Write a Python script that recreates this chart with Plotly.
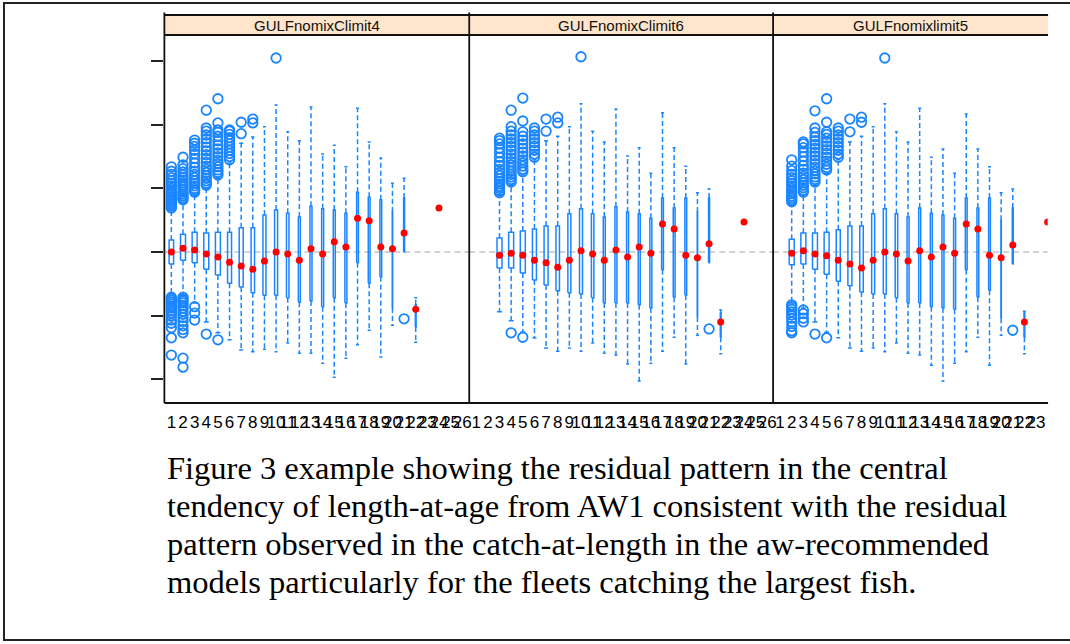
import plotly.graph_objects as go

W, H = 1070, 644

# ---------------- data ----------------
panel_titles = ["GULFnomixClimit4", "GULFnomixClimit6", "GULFnomixlimit5"]
age_ticks = list(range(1, 27))

# panel 1 : GULFnomixClimit4
p1_age   = [1, 2, 3, 4, 5, 6, 7, 8, 9, 10, 11, 12, 13, 14, 15, 16, 17, 18, 19, 20, 21, 22, 24]
p1_lower = [-0.68, -0.68, -0.80, -1.10, -1.27, -1.38, -1.54, -1.57, -1.53, -1.57, -1.43, -1.59, -1.59, -1.75, -1.97, -1.67, -1.46, -1.23, -1.65, -1.15, 0.00, -1.42, None]
p1_q1    = [-0.19, -0.13, -0.17, -0.27, -0.36, -0.49, -0.55, -0.64, -0.68, -0.68, -0.72, -0.79, -0.77, -0.86, -0.72, -0.80, -0.17, -0.49, -0.39, -0.88, 0.00, -1.18, None]
p1_med   = [0.00, 0.06, 0.03, -0.03, -0.08, -0.16, -0.22, -0.27, -0.14, 0.00, -0.03, -0.13, 0.05, -0.03, 0.16, 0.08, 0.53, 0.49, 0.08, 0.05, 0.30, -0.90, 0.69]
p1_q3    = [0.19, 0.28, 0.31, 0.30, 0.31, 0.31, 0.38, 0.38, 0.58, 0.66, 0.61, 0.55, 0.72, 0.68, 0.66, 0.61, 0.94, 0.86, 0.82, 0.63, 0.85, -0.83, None]
p1_upper = [0.66, 0.77, 0.90, 1.00, 1.16, 1.40, 1.71, 1.81, 1.97, 2.31, 1.89, 1.75, 2.28, 1.54, 1.68, 1.34, 2.26, 1.73, 1.48, 1.08, 1.16, -0.72, None]
p1_outliers = {
    1: [0.69, 0.72, 0.75, 0.78, 0.81, 0.84, 0.87, 0.90, 0.93, 0.96, 1.00, 1.04, 1.08, 1.12, 1.17, 1.22, 1.27, 1.34,
        -0.71, -0.73, -0.76, -0.79, -0.82, -0.85, -0.88, -0.92, -0.96, -1.01, -1.07, -1.12, -1.19, -1.35, -1.62],
    2: [0.82, 0.85, 0.88, 0.91, 0.94, 0.98, 1.02, 1.05, 1.09, 1.13, 1.17, 1.21, 1.26, 1.31, 1.37, 1.49,
        -0.71, -0.74, -0.77, -0.80, -0.84, -0.88, -0.93, -0.98, -1.03, -1.09, -1.16, -1.22, -1.27, -1.67, -1.81],
    3: [0.94, 0.97, 1.00, 1.04, 1.08, 1.12, 1.17, 1.22, 1.27, 1.33, 1.40, 1.47, 1.54, 1.60, 1.66, 1.71, 1.76,
        -0.86, -0.96, -1.07],
    4: [1.05, 1.08, 1.12, 1.16, 1.20, 1.25, 1.30, 1.35, 1.41, 1.47, 1.53, 1.59, 1.65, 1.72, 1.78, 1.84, 1.90, 1.95, 2.23, -1.29],
    5: [1.21, 1.25, 1.29, 1.34, 1.39, 1.44, 1.50, 1.56, 1.62, 1.68, 1.75, 1.82, 1.88, 1.92, 2.03, 2.41, -1.38],
    6: [1.45, 1.50, 1.55, 1.60, 1.65, 1.70, 1.75, 1.80, 1.85, 1.90, 1.92],
    7: [1.86, 2.04],
    8: [2.03, 2.09],
    10: [3.05],
    21: [-1.05],
}

# panel 2 : GULFnomixClimit6
p2_age   = [3, 4, 5, 6, 7, 8, 9, 10, 11, 12, 13, 14, 15, 16, 17, 18, 19, 20, 21, 22, 24]
p2_lower = [-0.94, -1.08, -1.26, -1.35, -1.51, -1.56, -1.51, -1.56, -1.43, -1.59, -1.62, -1.76, -2.03, -1.75, -1.56, -1.34, -1.76, -1.31, -0.17, -1.60, None]
p2_q1    = [-0.25, -0.25, -0.33, -0.44, -0.52, -0.61, -0.64, -0.66, -0.72, -0.80, -0.80, -0.80, -0.83, -0.88, -0.28, -0.71, -0.68, -1.02, -0.17, -1.34, None]
p2_med   = [-0.05, -0.02, -0.05, -0.13, -0.17, -0.24, -0.13, 0.02, -0.03, -0.13, 0.03, -0.08, 0.08, -0.02, 0.44, 0.36, -0.05, -0.09, 0.13, -1.10, 0.47]
p2_q3    = [0.22, 0.31, 0.33, 0.36, 0.41, 0.41, 0.60, 0.68, 0.60, 0.55, 0.71, 0.63, 0.60, 0.53, 0.85, 0.69, 0.85, 0.63, 0.85, -0.96, None]
p2_upper = [0.90, 1.05, 1.21, 1.45, 1.75, 1.82, 1.97, 2.33, 1.90, 1.73, 2.25, 1.51, 1.64, 1.24, 2.19, 1.64, 1.35, 0.93, 0.99, -0.91, None]
p2_outliers = {
    3: [0.93, 0.96, 1.00, 1.03, 1.07, 1.11, 1.15, 1.20, 1.25, 1.30, 1.36, 1.42, 1.49, 1.56, 1.63, 1.70, 1.75, 1.79],
    4: [1.10, 1.14, 1.18, 1.22, 1.27, 1.32, 1.37, 1.42, 1.48, 1.54, 1.60, 1.66, 1.72, 1.78, 1.84, 1.90, 1.97, 2.23, -1.27],
    5: [1.26, 1.30, 1.35, 1.40, 1.45, 1.51, 1.57, 1.63, 1.70, 1.76, 1.82, 1.89, 2.06, 2.42, -1.34],
    6: [1.49, 1.54, 1.60, 1.66, 1.72, 1.78, 1.84, 1.90, 1.95],
    7: [1.90, 2.09],
    8: [2.03, 2.12],
    10: [3.07],
    21: [-1.21],
}

# panel 3 : GULFnomixlimit5
p3_age   = [2, 3, 4, 5, 6, 7, 8, 9, 10, 11, 12, 13, 14, 15, 16, 17, 18, 19, 20, 21, 22, 24]
p3_lower = [-0.80, -0.88, -1.10, -1.26, -1.35, -1.51, -1.56, -1.51, -1.57, -1.43, -1.59, -1.62, -1.78, -2.03, -1.75, -1.57, -1.34, -1.78, -1.31, -0.19, -1.60, None]
p3_q1    = [-0.20, -0.19, -0.27, -0.35, -0.46, -0.53, -0.63, -0.66, -0.66, -0.72, -0.80, -0.80, -0.86, -0.88, -0.90, -0.28, -0.71, -0.60, -1.04, -0.19, -1.34, None]
p3_med   = [-0.02, 0.02, -0.03, -0.06, -0.13, -0.19, -0.25, -0.13, 0.00, -0.03, -0.14, 0.02, -0.08, 0.08, -0.02, 0.44, 0.36, -0.05, -0.09, 0.11, -1.10, 0.47]
p3_q3    = [0.20, 0.30, 0.30, 0.31, 0.35, 0.41, 0.41, 0.60, 0.68, 0.60, 0.55, 0.69, 0.61, 0.58, 0.53, 0.85, 0.69, 0.85, 0.50, 0.69, -0.96, None]
p3_upper = [0.74, 0.90, 1.05, 1.24, 1.45, 1.73, 1.82, 1.97, 2.33, 1.89, 1.73, 2.26, 1.49, 1.62, 1.24, 2.17, 1.62, 1.34, 0.93, 0.99, -0.93, None]
p3_outliers = {
    2: [0.79, 0.82, 0.85, 0.88, 0.92, 0.96, 1.00, 1.04, 1.08, 1.12, 1.17, 1.22, 1.28, 1.35, 1.45,
        -0.83, -0.86, -0.90, -0.94, -0.99, -1.04, -1.10, -1.17, -1.24, -1.27],
    3: [0.94, 0.97, 1.01, 1.05, 1.09, 1.14, 1.19, 1.24, 1.30, 1.36, 1.43, 1.50, 1.57, 1.64, 1.70, 1.73,
        -0.91, -0.97, -1.04, -1.10],
    4: [1.10, 1.14, 1.18, 1.23, 1.28, 1.33, 1.39, 1.45, 1.51, 1.57, 1.63, 1.69, 1.75, 1.81, 1.88, 1.95, 2.22, -1.29],
    5: [1.29, 1.33, 1.38, 1.43, 1.49, 1.55, 1.61, 1.67, 1.73, 1.79, 1.85, 1.89, 2.04, 2.41, -1.35],
    6: [1.49, 1.54, 1.60, 1.66, 1.72, 1.78, 1.84, 1.90, 1.95],
    7: [1.89, 2.09],
    8: [2.04, 2.12],
    10: [3.05],
    21: [-1.23],
}

caption_lines = [
    "Figure 3 example showing the residual pattern in the central",
    "tendency of length-at-age from AW1 consistent with the residual",
    "pattern observed in the catch-at-length in the aw-recommended",
    "models particularly for the fleets catching the largest fish.",
]

# ---------------- style ----------------
BLUE = "#1a85ff"
RED = "#ff0000"
STRIP = "#ffe5cc"
PPU = 306 / 26.2  # pixels per category unit
BOX_W_PX = {1: 4.5, 2: 5, 3: 5, 4: 5, 5: 5, 6: 4, 7: 4, 8: 3.5, 9: 3, 10: 3, 11: 2.5,
            12: 2, 13: 2, 14: 2, 15: 2, 16: 2, 17: 1.8, 18: 1.8, 19: 1.8, 20: 0.4, 21: 1.0, 22: 0.8}

def xp(px):
    return px / W

def yp(py):
    return 1 - py / H

x_domains = [[xp(165), xp(471)], [xp(471), xp(776)], [xp(776), xp(1051.6)]]
x_ranges = [[0.4, 26.6], [0.4, 26.5], [0.4, 24.0]]
x_tickmax = [26, 26, 23]
y_domain = [yp(403), yp(35)]
y_range = [-2.374, 3.412]

fig = go.Figure()

panels = [
    (p1_age, p1_lower, p1_q1, p1_med, p1_q3, p1_upper, p1_outliers),
    (p2_age, p2_lower, p2_q1, p2_med, p2_q3, p2_upper, p2_outliers),
    (p3_age, p3_lower, p3_q1, p3_med, p3_q3, p3_upper, p3_outliers),
]

for k, (ages, lower, q1, med, q3, upper, outl) in enumerate(panels, start=1):
    xa = "x" if k == 1 else f"x{k}"
    ya = "y" if k == 1 else f"y{k}"
    wx, wy, cx, cy, bx, by = [], [], [], [], [], []
    for a, lo, b1, b3, up in zip(ages, lower, q1, q3, upper):
        if b1 is None:
            continue
        hw = BOX_W_PX[a] / 2 / PPU
        cw = max(BOX_W_PX[a], 3) / 2 / PPU
        if up is not None and up > b3:
            wx += [a, a, None]; wy += [b3, up, None]
            cx += [a - cw, a + cw, None]; cy += [up, up, None]
        if lo is not None and lo < b1:
            wx += [a, a, None]; wy += [b1, lo, None]
            cx += [a - cw, a + cw, None]; cy += [lo, lo, None]
        bx += [a - hw, a + hw, a + hw, a - hw, a - hw, None]
        by += [b1, b1, b3, b3, b1, None]
    ox, oy = [], []
    for a, vals in outl.items():
        ox += [a] * len(vals)
        oy += vals
    fig.add_trace(go.Scatter(x=wx, y=wy, mode="lines", xaxis=xa, yaxis=ya,
                             line=dict(color=BLUE, width=1.5, dash="5px,3px"), hoverinfo="skip"))
    fig.add_trace(go.Scatter(x=cx, y=cy, mode="lines", xaxis=xa, yaxis=ya,
                             line=dict(color=BLUE, width=1.5), hoverinfo="skip"))
    fig.add_trace(go.Scatter(x=bx, y=by, mode="lines", xaxis=xa, yaxis=ya,
                             line=dict(color=BLUE, width=1.5), hoverinfo="skip"))
    fig.add_trace(go.Scatter(x=ox, y=oy, mode="markers", xaxis=xa, yaxis=ya,
                             marker=dict(symbol="circle-open", size=9.5, color=BLUE,
                                         line=dict(color=BLUE, width=1.8))))
    fig.add_trace(go.Scatter(x=ages, y=med, mode="markers", xaxis=xa, yaxis=ya,
                             marker=dict(symbol="circle", size=7, color=RED)))

    fig.update_layout(**{
        ("xaxis" if k == 1 else f"xaxis{k}"): dict(
            domain=x_domains[k - 1], range=x_ranges[k - 1], anchor=ya,
            tickmode="array", tickvals=age_ticks[:x_tickmax[k - 1]],
            ticktext=[str(t) for t in age_ticks[:x_tickmax[k - 1]]],
            tickangle=0, ticks="", showgrid=False, zeroline=False, showline=False,
            ticklabelstandoff=7,
            tickfont=dict(family="Liberation Sans, Arial", size=17, color="#000000"),
        ),
        ("yaxis" if k == 1 else f"yaxis{k}"): dict(
            domain=y_domain, range=y_range, anchor=xa,
            showgrid=False, zeroline=False, showline=False, showticklabels=False,
            tickmode="array", tickvals=[-2, -1, 0, 1, 2, 3],
            ticks="outside" if k == 1 else "", ticklen=12, tickwidth=1.6, tickcolor="#222222",
        ),
    })

shapes = []
# zero reference lines
for k in range(1, 4):
    xr = "x" if k == 1 else f"x{k}"
    yr = "y" if k == 1 else f"y{k}"
    shapes.append(dict(type="line", xref=f"{xr} domain", x0=0, x1=1, yref=yr, y0=0, y1=0,
                       line=dict(color="#c4c4c4", width=1.5, dash="6px,4px"), layer="below"))
# strips
for x0, x1 in [(165, 471), (471, 776), (776, 1052)]:
    shapes.append(dict(type="rect", xref="paper", yref="paper", x0=xp(x0), x1=xp(x1),
                       y0=yp(35), y1=yp(15), fillcolor=STRIP, line=dict(width=0), layer="below"))
LINE = dict(color="#111111", width=1.8)
for yy in (15, 35, 403):
    shapes.append(dict(type="line", xref="paper", yref="paper", x0=xp(165), x1=xp(1052),
                       y0=yp(yy), y1=yp(yy), line=LINE))
for xx in (165, 471, 776):
    shapes.append(dict(type="line", xref="paper", yref="paper", x0=xp(xx), x1=xp(xx),
                       y0=yp(12.5), y1=yp(403), line=LINE))
# outer page frame
shapes.append(dict(type="rect", xref="paper", yref="paper", x0=xp(4), x1=xp(1080),
                   y0=yp(640), y1=yp(3), line=dict(color="#222222", width=2)))

annotations = []
for i, t in enumerate(panel_titles):
    annotations.append(dict(text=t, xref="paper", yref="paper",
                            x=(x_domains[i][0] + x_domains[i][1]) / 2 if i < 2 else xp(914),
                            y=yp(25), xanchor="center", yanchor="middle", showarrow=False,
                            font=dict(family="Liberation Sans, Arial", size=15, color="#111111")))
for i, line in enumerate(caption_lines):
    annotations.append(dict(text=line, xref="paper", yref="paper", x=xp(166), y=yp(468 + 38 * i),
                            xanchor="left", yanchor="middle", showarrow=False,
                            font=dict(family="Liberation Serif, Times New Roman", size=32.5, color="#000000")))

fig.update_layout(
    width=W, height=H, autosize=False,
    margin=dict(l=0, r=0, t=0, b=0),
    paper_bgcolor="white", plot_bgcolor="rgba(0,0,0,0)",
    showlegend=False, shapes=shapes, annotations=annotations,
)

fig.write_html("out.html", config={"displayModeBar": False},
               post_script="document.body.style.margin='0px';")
